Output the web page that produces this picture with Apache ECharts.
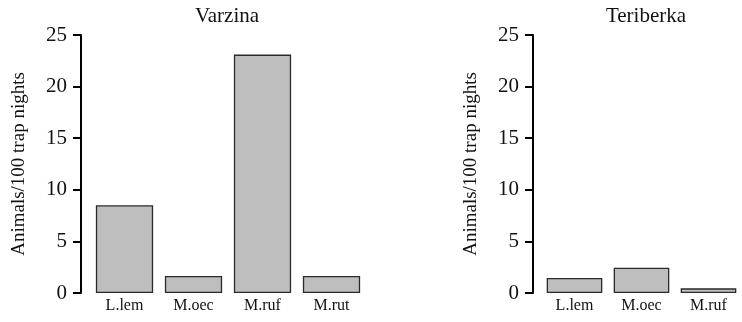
<!DOCTYPE html>
<html>
<head>
<meta charset="utf-8">
<script src="https://cdn.jsdelivr.net/npm/echarts@6/dist/echarts.min.js"></script>
<style>
  html, body { margin: 0; padding: 0; background: #fff; }
  #chart { width: 742px; height: 322px; }
</style>
</head>
<body>
<div id="chart"></div>
<script>
const varzinaSpecies = ['L.lem', 'M.oec', 'M.ruf', 'M.rut']
const varzinaValues = [8.5, 1.65, 23.1, 1.65]
const teriberkaSpecies = ['L.lem', 'M.oec', 'M.ruf']
const teriberkaValues = [1.45, 2.45, 0.45]
const panelTitles = ['Varzina', 'Teriberka']
const yTicks = { min: 0, max: 25, interval: 5 }
const yName = 'Animals/100 trap nights'

const font = '"Liberation Serif", "DejaVu Serif", serif'
const chart = echarts.init(document.getElementById('chart'))

const makeYAxis = (gridIndex, offset) => ({
  type: 'value',
  gridIndex,
  min: yTicks.min,
  max: yTicks.max,
  interval: yTicks.interval,
  offset,
  name: yName,
  nameLocation: 'middle',
  nameGap: 52,
  nameTextStyle: { color: '#111', fontFamily: font, fontSize: 19 },
  axisLine: { show: true, lineStyle: { color: '#000', width: 2 } },
  axisTick: { show: true, length: 8, lineStyle: { color: '#000', width: 2 } },
  axisLabel: { color: '#111', fontFamily: font, fontSize: 21, margin: 14 },
  splitLine: { show: false }
})

const makeXAxis = (gridIndex, data) => ({
  type: 'category',
  gridIndex,
  data,
  axisLine: { show: false },
  axisTick: { show: false },
  axisLabel: { color: '#111', fontFamily: font, fontSize: 16, margin: 5 }
})

const barStyle = { color: '#bebebe', borderColor: '#2a2a2a', borderWidth: 1.3 }

chart.setOption({
  animation: false,
  title: [
    { text: panelTitles[0], left: 222, top: 1, textAlign: 'center',
      textStyle: { fontFamily: font, fontSize: 21, fontWeight: 'normal', color: '#111' } },
    { text: panelTitles[1], left: 641, top: 1, textAlign: 'center',
      textStyle: { fontFamily: font, fontSize: 21, fontWeight: 'normal', color: '#111' } }
  ],
  grid: [
    { left: 90, top: 35, width: 276, height: 258 },
    { left: 541, top: 35, width: 207, height: 258 }
  ],
  xAxis: [makeXAxis(0, varzinaSpecies), makeXAxis(1, teriberkaSpecies)],
  yAxis: [makeYAxis(0, 9), makeYAxis(1, 8)],
  series: [
    { type: 'bar', xAxisIndex: 0, yAxisIndex: 0, data: varzinaValues,
      barCategoryGap: '17%', itemStyle: barStyle },
    { type: 'bar', xAxisIndex: 1, yAxisIndex: 1, data: teriberkaValues,
      barCategoryGap: '17%', itemStyle: barStyle }
  ]
})
</script>
</body>
</html>
